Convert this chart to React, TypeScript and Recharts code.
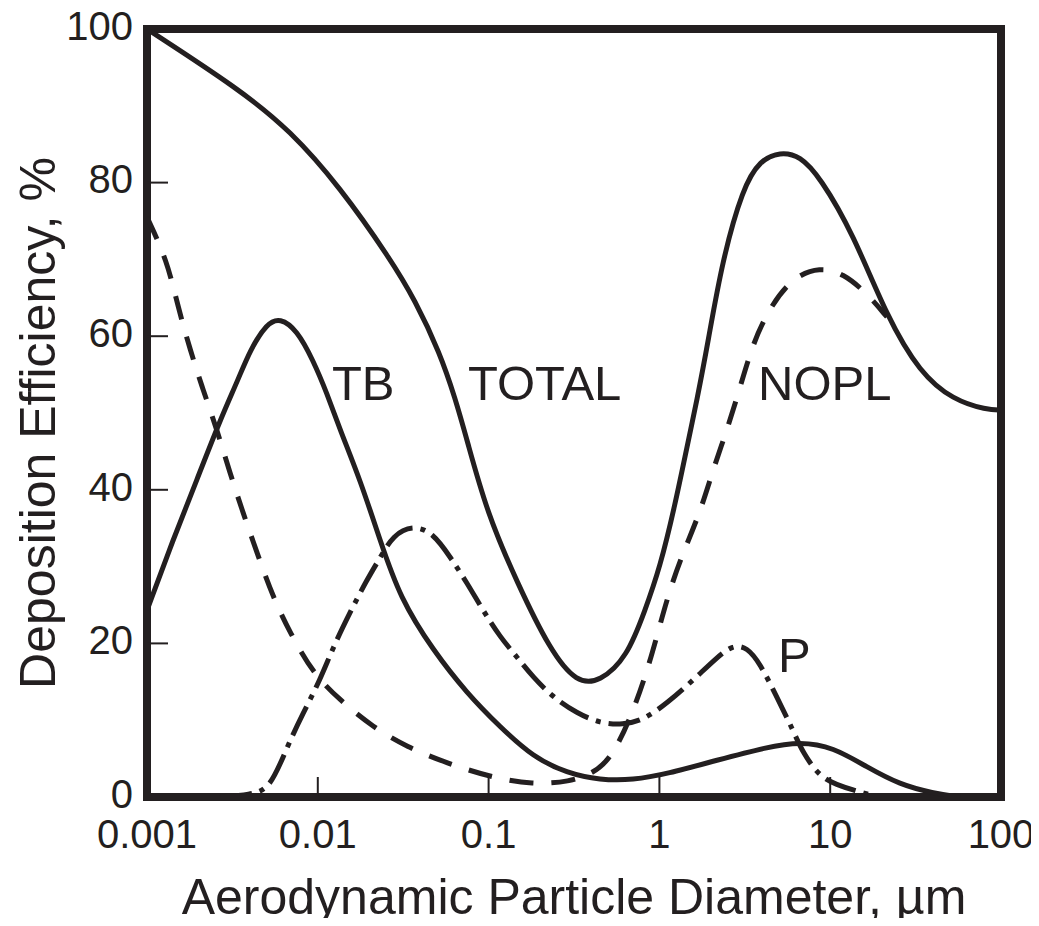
import React from 'react';
import { LineChart, Line, XAxis, YAxis, ReferenceArea, ReferenceDot } from 'recharts';

const FONT = '"Liberation Sans", Arial, Helvetica, sans-serif';
const INK = '#231f20';

// Aerodynamic diameter (µm) vs deposition efficiency (%)
const total = [
  [0.001, 100], [0.0035, 92.1], [0.00688, 86.8], [0.0135, 79.4], [0.0265, 70.1],
  [0.0371, 64.7], [0.0519, 57.8], [0.0636, 52.0], [0.0747, 46.5], [0.0979, 37.0],
  [0.147, 27.9], [0.229, 19.1], [0.329, 14.8], [0.449, 15.0], [0.646, 18.2],
  [0.824, 24.3], [1.008, 29.9], [1.234, 38.0], [1.451, 45.6], [1.66, 51.7],
  [1.925, 59.2], [2.325, 69.7], [3.086, 79.4], [3.882, 82.9], [5.083, 84.0],
  [6.656, 83.5], [8.717, 80.7], [13.6, 73.4], [21.5, 62.5], [33.6, 55.2],
  [52.4, 51.7], [82.8, 50.4], [100, 50.4],
];

const nopl = [
  [0.001, 75.5], [0.00131, 69.9], [0.00152, 63.8], [0.00179, 58.2], [0.00213, 53.0],
  [0.00257, 47.8], [0.00306, 42.2], [0.00365, 37.0], [0.00441, 31.8], [0.00547, 26.0],
  [0.00688, 21.4], [0.00937, 16.1], [0.0135, 12.6], [0.021, 9.1], [0.0333, 6.5],
  [0.0571, 4.4], [0.102, 2.6], [0.182, 1.6], [0.3, 2.0], [0.4, 3.0], [0.514, 4.8],
  [0.673, 10.0], [0.881, 17.4], [1.108, 26.0], [1.374, 31.8], [1.729, 37.0],
  [2.059, 42.6], [2.488, 47.8], [2.964, 53.3], [3.532, 59.1], [4.441, 63.8],
  [6.056, 67.7], [8.717, 69.0], [11.9, 68.2], [16.4, 65.6], [21.5, 62.5],
];

const tb = [
  [0.001, 24.3], [0.00142, 33.5], [0.00196, 41.3], [0.00268, 49.1], [0.00341, 54.3],
  [0.00401, 58.2], [0.00504, 61.7], [0.00601, 62.4], [0.00755, 60.8], [0.00937, 56.9],
  [0.0113, 52.6], [0.0135, 47.8], [0.0177, 41.3], [0.0231, 33.5], [0.0303, 25.9],
  [0.0473, 19.1], [0.0747, 13.5], [0.117, 9.1], [0.182, 5.2], [0.288, 3.1],
  [0.449, 2.2], [0.7, 2.2], [1.108, 3.0], [2.174, 4.8], [4.266, 6.5], [6.656, 7.2],
  [10.4, 6.5], [16.4, 3.9], [25.6, 1.6], [40, 0.5], [57.5, 0],
];

const pul = [
  [0.00268, 0], [0.00401, 0.3], [0.00525, 1.0], [0.0066, 6.5], [0.00819, 10.9],
  [0.0103, 15.2], [0.0123, 19.5], [0.0154, 24.0], [0.0194, 28.3], [0.0231, 31.1],
  [0.0276, 34.1], [0.0361, 35.4], [0.0473, 34.4], [0.0594, 31.3], [0.0747, 27.9],
  [0.0927, 24.3], [0.117, 20.8], [0.147, 18.2], [0.182, 15.6], [0.238, 13.0],
  [0.329, 10.9], [0.449, 9.6], [0.612, 9.4], [0.802, 10.0], [1.108, 12.2],
  [1.573, 15.2], [2.174, 18.2], [2.697, 19.8], [3.258, 19.5], [3.882, 17.4],
  [4.881, 13.0], [6.056, 8.7], [6.929, 5.7], [8.717, 2.6], [10.96, 1.6],
  [13.6, 0.9], [17.1, 0.3],
];

const xTicks = [0.001, 0.01, 0.1, 1, 10, 100];
const xTickLabels = ['0.001', '0.01', '0.1', '1', '10', '100'];
const yTicks = [0, 20, 40, 60, 80, 100];

const curveLabels = [
  { text: 'TB', d: 0.0121, e: 51.7 },
  { text: 'TOTAL', d: 0.0757, e: 51.7 },
  { text: 'NOPL', d: 3.78, e: 51.7 },
  { text: 'P', d: 4.95, e: 16.3 },
];

const toRows = (arr: number[][]) => arr.map(([d, e]) => ({ d, e }));

const X_MARGIN = 23;
const Y_MARGIN = 14;

const XTick = (props: any) => {
  const { x, y, payload } = props;
  const idx = xTicks.indexOf(payload.value);
  const axisY = y - X_MARGIN;
  const inner = payload.value > xTicks[0] && payload.value < xTicks[xTicks.length - 1];
  return (
    <g>
      {inner && <line x1={x} x2={x} y1={axisY} y2={axisY - 20} stroke={INK} strokeWidth={2} />}
      <text x={x} y={y} dy="0.71em" textAnchor="middle" fontSize={40} fontFamily={FONT} fill={INK}>
        {idx >= 0 ? xTickLabels[idx] : payload.value}
      </text>
    </g>
  );
};

const YTick = (props: any) => {
  const { x, y, payload } = props;
  const axisX = x + Y_MARGIN;
  const inner = payload.value > 0 && payload.value < 100;
  return (
    <g>
      {inner && <line x1={axisX} x2={axisX + 21} y1={y} y2={y} stroke={INK} strokeWidth={2} />}
      <text x={x} y={y} dy="0.27em" textAnchor="end" fontSize={40} fontFamily={FONT} fill={INK}>
        {payload.value}
      </text>
    </g>
  );
};

const XTitle = (props: any) => {
  const vb = props.viewBox;
  return (
    <text x={vb.x + vb.width / 2} y={vb.y + 117} textAnchor="middle" fontSize={50} fontFamily={FONT} fill={INK}>
      Aerodynamic Particle Diameter, µm
    </text>
  );
};

const YTitle = (props: any) => {
  const vb = props.viewBox;
  const cx = 55;
  const cy = vb.y + vb.height / 2 + 10;
  return (
    <text x={cx} y={cy} transform={`rotate(-90 ${cx} ${cy})`} textAnchor="middle" fontSize={50} fontFamily={FONT} fill={INK}>
      Deposition Efficiency, %
    </text>
  );
};

const makeCurveLabel = (text: string) => (props: any) => {
  const vb = props.viewBox;
  return (
    <text x={vb.x} y={vb.y} textAnchor="start" fontSize={49} fontFamily={FONT} fill={INK}>
      {text}
    </text>
  );
};

export default function App() {
  const common = {
    type: 'basis' as const,
    dataKey: 'e',
    stroke: INK,
    strokeWidth: 5,
    dot: false,
    activeDot: false,
    isAnimationActive: false,
    strokeLinejoin: 'round' as const,
  };
  return (
    <div style={{ margin: -8, width: 1039, height: 926, fontFamily: FONT }}>
      <LineChart width={1039} height={926} margin={{ top: 29, right: 38, bottom: 8, left: 67 }}>
        <XAxis
          dataKey="d"
          type="number"
          scale="log"
          domain={[0.001, 100]}
          allowDataOverflow
          ticks={xTicks}
          interval={0}
          height={121}
          tickSize={0}
          tickMargin={X_MARGIN}
          axisLine={false}
          tickLine={false}
          tick={XTick}
          label={XTitle}
        />
        <YAxis
          type="number"
          domain={[0, 100]}
          allowDataOverflow
          ticks={yTicks}
          interval={0}
          width={80}
          tickSize={0}
          tickMargin={Y_MARGIN}
          axisLine={false}
          tickLine={false}
          tick={YTick}
          label={YTitle}
        />
        <Line {...common} data={toRows(pul)} strokeDasharray="32 8 5 8" name="P" />
        <Line {...common} data={toRows(tb)} name="TB" />
        <Line {...common} data={toRows(nopl)} strokeDasharray="24 18" name="NOPL" />
        <Line {...common} data={toRows(total)} name="TOTAL" />
        <ReferenceArea
          x1={0.001}
          x2={100}
          y1={0}
          y2={100}
          fill="none"
          fillOpacity={0}
          stroke={INK}
          strokeWidth={8}
          ifOverflow="visible"
        />
        {curveLabels.map((l) => (
          <ReferenceDot
            key={l.text}
            x={l.d}
            y={l.e}
            r={0}
            fill="none"
            stroke="none"
            ifOverflow="visible"
            label={makeCurveLabel(l.text)}
          />
        ))}
      </LineChart>
    </div>
  );
}
